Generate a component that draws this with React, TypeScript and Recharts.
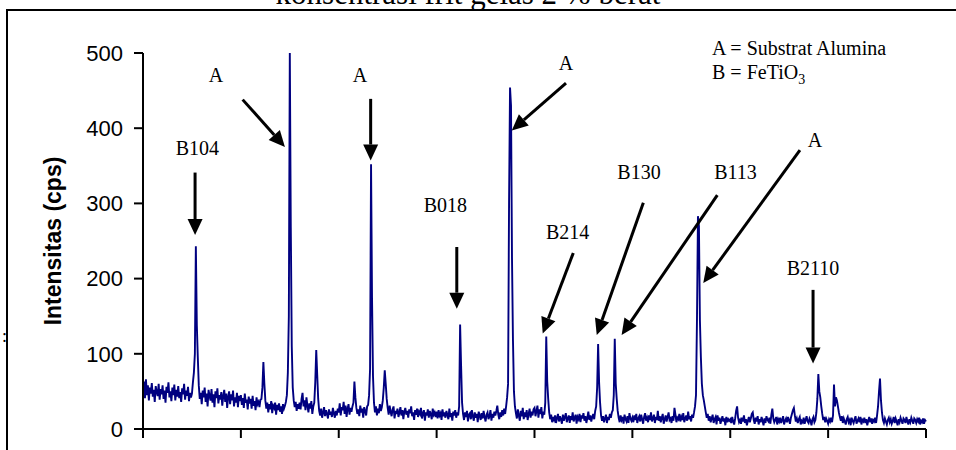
import React from "react";
import {
  Line,
  LineChart,
  ReferenceDot,
  ReferenceLine,
  XAxis,
  YAxis,
} from "recharts";

// 2-theta scan, 0.05 deg step, one array per 5 deg block
const SCAN_20 = [
  52, 63, 41, 66, 45, 58, 38, 55, 47, 61, 43, 52, 36, 57, 49, 44, 60, 39, 53, 46,
  58, 40, 51, 35, 56, 48, 62, 42, 50, 37, 55, 45, 59, 38, 52, 43, 57, 41, 49, 36,
  54, 46, 60, 39, 51, 44, 56, 37, 48, 42, 47, 62, 75, 100, 243, 138, 95, 58, 40, 48,
  33, 51, 42, 55, 36, 47, 30, 52, 44, 38, 53, 35, 46, 29, 50, 41, 54, 34, 45, 39,
  49, 31, 44, 52, 36, 47, 28, 43, 50, 33, 46, 38, 51, 30, 42, 35, 48, 29, 44, 37,
];
const SCAN_25 = [
  45, 32, 41, 28, 47, 35, 39, 26, 43, 34, 40, 27, 44, 31, 37, 25, 42, 33, 36, 29,
  39, 40, 55, 89, 60, 38, 27, 35, 22, 33, 26, 37, 21, 31, 28, 35, 19, 32, 25, 34,
  23, 30, 20, 33, 27, 31, 36, 45, 75, 150, 500, 268, 110, 55, 38, 29, 36, 24, 33, 27,
  35, 26, 40, 48, 30, 38, 25, 42, 31, 22, 34, 27, 37, 20, 30, 35, 62, 105, 72, 40,
  24, 18, 27, 15, 22, 29, 17, 25, 20, 14, 26, 19, 23, 16, 28, 21, 15, 24, 18, 27,
];
const SCAN_30 = [
  22, 34, 18, 29, 25, 36, 20, 31, 16, 27, 33, 19, 28, 23, 30, 35, 63, 42, 28, 20,
  26, 17, 31, 22, 27, 15, 29, 24, 18, 30, 32, 45, 80, 352, 174, 70, 35, 22, 30, 18,
  27, 21, 33, 24, 29, 38, 55, 78, 60, 40, 28, 19, 31, 23, 17, 26, 30, 14, 24, 20,
  27, 16, 22, 29, 18, 25, 13, 23, 28, 19, 24, 15, 26, 21, 30, 17, 22, 12, 25, 19,
  27, 16, 23, 20, 28, 14, 21, 25, 11, 22, 18, 26, 15, 24, 20, 13, 27, 19, 22, 16,
];
const SCAN_35 = [
  23, 14, 25, 18, 21, 12, 26, 17, 22, 15, 24, 19, 13, 27, 16, 21, 11, 23, 18, 25,
  15, 22, 18, 30, 139, 84, 35, 20, 12, 22, 16, 24, 10, 19, 21, 13, 25, 17, 11, 22,
  15, 20, 9, 23, 18, 12, 21, 14, 24, 16, 10, 19, 22, 13, 17, 25, 11, 20, 15, 23,
  18, 24, 31, 19, 13, 22, 16, 25, 18, 27, 20, 30, 42, 60, 300, 454, 430, 228, 118, 50,
  30, 21, 14, 26, 18, 11, 24, 17, 28, 13, 22, 16, 25, 12, 20, 27, 15, 23, 18, 26,
];
const SCAN_40 = [
  28, 17, 24, 31, 15, 26, 20, 29, 14, 23, 19, 35, 123, 63, 40, 22, 13, 19, 9, 16,
  12, 18, 8, 15, 20, 10, 17, 13, 7, 19, 11, 16, 21, 9, 14, 18, 8, 17, 12, 22,
  10, 15, 19, 7, 16, 13, 20, 9, 18, 14, 21, 11, 17, 8, 15, 23, 12, 18, 10, 16,
  20, 13, 24, 30, 55, 113, 62, 35, 18, 11, 17, 9, 14, 19, 8, 16, 12, 20, 15, 22,
  25, 45, 120, 60, 40, 24, 15, 9, 18, 12, 16, 7, 19, 13, 10, 17, 8, 21, 14, 11,
];
const SCAN_45 = [
  15, 9, 18, 12, 20, 8, 14, 17, 10, 19, 13, 7, 16, 21, 11, 15, 9, 18, 12, 22,
  10, 14, 19, 8, 16, 12, 24, 11, 17, 9, 15, 20, 7, 13, 18, 10, 16, 22, 12, 14,
  8, 17, 11, 28, 19, 9, 15, 13, 20, 10, 16, 12, 21, 9, 14, 18, 11, 23, 13, 17,
  10, 19, 15, 22, 30, 45, 145, 283, 270, 145, 95, 60, 45, 38, 30, 22, 15, 20, 11, 17,
  9, 14, 19, 8, 13, 16, 6, 18, 11, 15, 7, 12, 17, 10, 14, 5, 16, 9, 13, 11,
];
const SCAN_50 = [
  13, 8, 16, 10, 6, 14, 24, 30, 15, 9, 12, 7, 15, 10, 18, 8, 13, 5, 11, 16,
  9, 14, 20, 22, 12, 7, 15, 10, 17, 6, 13, 9, 16, 11, 5, 14, 8, 17, 12, 10,
  15, 7, 19, 27, 14, 9, 12, 16, 6, 13, 10, 15, 8, 12, 17, 6, 11, 14, 9, 16,
  12, 7, 15, 20, 25, 28, 18, 10, 14, 8, 13, 16, 6, 11, 9, 15, 7, 12, 17, 10,
  8, 14, 11, 5, 13, 16, 9, 12, 22, 40, 73, 50, 42, 30, 20, 12, 16, 9, 14, 11,
];
const SCAN_55 = [
  7, 13, 10, 15, 9, 18, 59, 30, 42, 38, 30, 22, 16, 11, 17, 8, 14, 10, 6, 13,
  16, 9, 12, 5, 15, 11, 8, 13, 17, 7, 11, 14, 9, 16, 6, 12, 10, 15, 8, 13,
  5, 11, 16, 9, 14, 7, 12, 10, 15, 8, 18, 30, 50, 67, 38, 22, 12, 8, 14, 10,
  6, 12, 15, 9, 13, 7, 11, 16, 8, 14, 10, 5, 13, 9, 15, 11, 7, 14, 12, 8,
  16, 10, 6, 13, 9, 15, 11, 7, 14, 12, 8, 13, 10, 15, 6, 11, 9, 14, 7, 12, 10,
];

const BLOCKS = [SCAN_20, SCAN_25, SCAN_30, SCAN_35, SCAN_40, SCAN_45, SCAN_50, SCAN_55];
const BLOCK_START = [20, 25, 30, 35, 40, 45, 50, 55];
const STEP = 0.05;

const X_TICKS = [20, 25, 30, 35, 40, 45, 50, 55, 60];
const Y_TICKS = [0, 100, 200, 300, 400, 500];

// peak labels and arrows, in (2theta, cps)
const PEAK_LABELS = [
  { text: "A", x: 23.73, y: 462 },
  { text: "B104", x: 22.78, y: 364 },
  { text: "A", x: 31.09, y: 462 },
  { text: "B018", x: 35.45, y: 289 },
  { text: "A", x: 41.61, y: 477 },
  { text: "B214", x: 41.69, y: 253 },
  { text: "B130", x: 45.34, y: 333 },
  { text: "B113", x: 50.27, y: 333 },
  { text: "A", x: 54.33, y: 375 },
  { text: "B2110", x: 54.23, y: 205 },
];
const ARROWS = [
  { x1: 25.09, y1: 438, x2: 27.25, y2: 375 },
  { x1: 22.66, y1: 341, x2: 22.66, y2: 258 },
  { x1: 31.63, y1: 439, x2: 31.63, y2: 357 },
  { x1: 36.03, y1: 242, x2: 36.03, y2: 160 },
  { x1: 41.61, y1: 460, x2: 38.84, y2: 397 },
  { x1: 41.98, y1: 234, x2: 40.42, y2: 127 },
  { x1: 45.56, y1: 301, x2: 43.18, y2: 125 },
  { x1: 49.34, y1: 311, x2: 44.45, y2: 125 },
  { x1: 53.56, y1: 371, x2: 48.62, y2: 194 },
  { x1: 54.23, y1: 185, x2: 54.23, y2: 87 },
];
const KEY_POS = { x: 49.07, y1: 498, y2: 465 };

const data = BLOCKS.flatMap((block, b) =>
  block.map((v, i) => ({ t: +(BLOCK_START[b] + i * STEP).toFixed(2), cps: v }))
);

const SERIF = "'Times New Roman', 'Liberation Serif', serif";
const SANS = "Arial, 'Liberation Sans', sans-serif";

function Arrow(p: any) {
  const { x1, y1, x2, y2 } = p;
  const dx = x2 - x1;
  const dy = y2 - y1;
  const len = Math.hypot(dx, dy) || 1;
  const ux = dx / len;
  const uy = dy / len;
  const bx = x2 - ux * 16;
  const by = y2 - uy * 16;
  return (
    <g>
      <line x1={x1} y1={y1} x2={bx} y2={by} stroke="#000" strokeWidth={3} />
      <polygon
        points={`${x2},${y2} ${bx - uy * 7.5},${by + ux * 7.5} ${bx + uy * 7.5},${by - ux * 7.5}`}
        fill="#000"
      />
    </g>
  );
}

// x tick labels sit below the visible frame in the original, so none are drawn
const NoLabel = () => <g />;

export default function App() {
  return (
    <div style={{ position: "relative", width: 956, height: 450, overflow: "hidden", background: "#fff" }}>
      <style>{"html,body{margin:0;padding:0;overflow:hidden}"}</style>
      <div
        style={{
          position: "absolute",
          left: 6,
          top: 9,
          width: 1100,
          height: 600,
          border: "2px solid #000",
        }}
      />
      <svg width={956} height={450} style={{ position: "absolute", left: 0, top: 0 }}>
        <text x={468} y={4} textAnchor="middle" fontFamily={SERIF} fontSize={31}>
          konsentrasi frit gelas 2 % berat
        </text>
        <text x={2} y={342} fontFamily={SERIF} fontSize={18}>
          :
        </text>
      </svg>
      <div style={{ position: "absolute", left: 0, top: 0 }}>
        <LineChart width={956} height={450} data={data} margin={{ top: 53, right: 30, bottom: 1, left: 0 }}>
          <XAxis
            dataKey="t"
            type="number"
            domain={[20, 60]}
            ticks={X_TICKS}
            height={20}
            tickSize={9}
            tick={NoLabel}
            axisLine={{ stroke: "#000", strokeWidth: 2 }}
            tickLine={{ stroke: "#000", strokeWidth: 2 }}
          />
          <YAxis
            type="number"
            domain={[0, 500]}
            ticks={Y_TICKS}
            width={143}
            tickSize={9}
            tickMargin={11}
            axisLine={{ stroke: "#000", strokeWidth: 2 }}
            tickLine={{ stroke: "#000", strokeWidth: 2 }}
            tick={{ fill: "#000", fontSize: 22, fontFamily: SANS }}
            label={{
              value: "Intensitas (cps)",
              angle: -90,
              position: "center",
              dx: -19,
              style: { fontFamily: SANS, fontSize: 23, fontWeight: "bold", fill: "#000" },
            }}
          />
          <Line
            type="linear"
            dataKey="cps"
            stroke="#000080"
            strokeWidth={1.9}
            dot={false}
            isAnimationActive={false}
          />
          {ARROWS.map((a, i) => (
            <ReferenceLine
              key={`ar${i}`}
              segment={[
                { x: a.x1, y: a.y1 },
                { x: a.x2, y: a.y2 },
              ]}
              shape={(p: any) => <Arrow {...p} />}
            />
          ))}
          {PEAK_LABELS.map((l, i) => (
            <ReferenceDot
              key={`lb${i}`}
              x={l.x}
              y={l.y}
              r={0}
              shape={(p: any) => (
                <text x={p.cx} y={p.cy} textAnchor="middle" fontFamily={SERIF} fontSize={20} fill="#000">
                  {l.text}
                </text>
              )}
            />
          ))}
          <ReferenceDot
            x={KEY_POS.x}
            y={KEY_POS.y1}
            r={0}
            shape={(p: any) => (
              <text x={p.cx} y={p.cy} fontFamily={SERIF} fontSize={20} fill="#000">
                A = Substrat Alumina
              </text>
            )}
          />
          <ReferenceDot
            x={KEY_POS.x}
            y={KEY_POS.y2}
            r={0}
            shape={(p: any) => (
              <text x={p.cx} y={p.cy} fontFamily={SERIF} fontSize={20} fill="#000">
                B = FeTiO<tspan fontSize={14} dy={5}>3</tspan>
              </text>
            )}
          />
        </LineChart>
      </div>
    </div>
  );
}
